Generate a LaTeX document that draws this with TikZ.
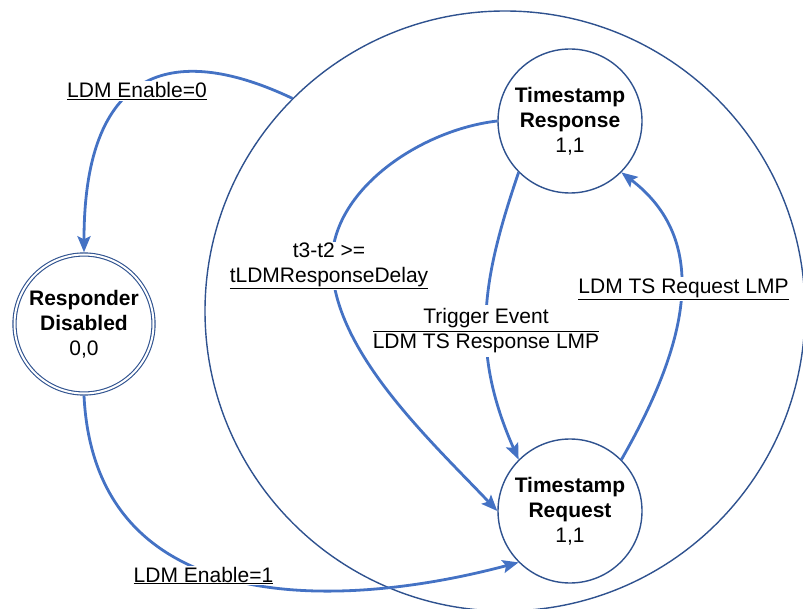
\documentclass[tikz,border=0pt]{standalone}
\usepackage{fontspec}
\setmainfont{Liberation Sans}
\usetikzlibrary{arrows.meta}
\definecolor{ringblue}{RGB}{47,82,143}
\definecolor{linkblue}{RGB}{68,114,196}
\begin{document}
\begin{tikzpicture}[x=1pt,y=-1pt,
  every node/.style={font=\fontsize{21}{25}\selectfont},
  state/.style={circle,draw=ringblue,line width=1.4pt,fill=white,minimum size=144pt,inner sep=0pt,align=center},
  endstate/.style={state,double=white,double distance=2pt,line width=1.1pt,minimum size=139pt,outer sep=2.2pt},
  ring/.style={circle,draw=ringblue,line width=1.4pt,minimum size=600pt,inner sep=0pt},
  conn/.style={draw=linkblue,line width=2.8pt,-{Stealth[length=16pt,width=13pt,inset=3pt]}},
  lbl/.style={fill=white,inner sep=1pt,align=center}]
\useasboundingbox (0,0) rectangle (803,609);
\clip (0,0) rectangle (803,609);

\node[ring] (big) at (505,311) {};
\node[state] (resp) at (570,121) {\textbf{Timestamp}\\\textbf{Response}\\1,1};
\node[state] (req) at (570,511) {\textbf{Timestamp}\\\textbf{Request}\\1,1};
\node[endstate] (rd) at (84,324) {\textbf{Responder}\\\textbf{Disabled}\\0,0};

% LDM Enable=0
\draw[conn] (big.135) .. controls (180,45) and (84,60) .. (rd.north);
% LDM Enable=1
\draw[conn] (rd.south) .. controls (95,620) and (340,610) .. (req.225);
% t3-t2 >= tLDMResponseDelay
\draw[conn] (resp.west) .. controls (420,130) and (332,190) .. (332,262)
  .. controls (332,350) and (430,440) .. (req.west);
% Trigger Event / LDM TS Response LMP
\draw[conn] (resp.225) .. controls (482,280) and (470,350) .. (req.135);
% LDM TS Request LMP
\draw[conn] (req.45) .. controls (690,340) and (710,240) .. (resp.315);

\node[lbl] (l0) at (137,91) {\underline{LDM Enable=0}};
\node[lbl] (l1) at (203.5,575.5) {\underline{LDM Enable=1}};
\node[lbl] (l2) at (329,266) {t3-t2 >=\\\underline{tLDMResponseDelay}};
\node[lbl] (l3) at (486,331) {\begin{tabular}{@{}c@{}}Trigger Event\\\hline LDM TS Response LMP\end{tabular}};
\node[lbl] (l4) at (683.5,289) {\underline{LDM TS Request LMP}};
\end{tikzpicture}
\end{document}
